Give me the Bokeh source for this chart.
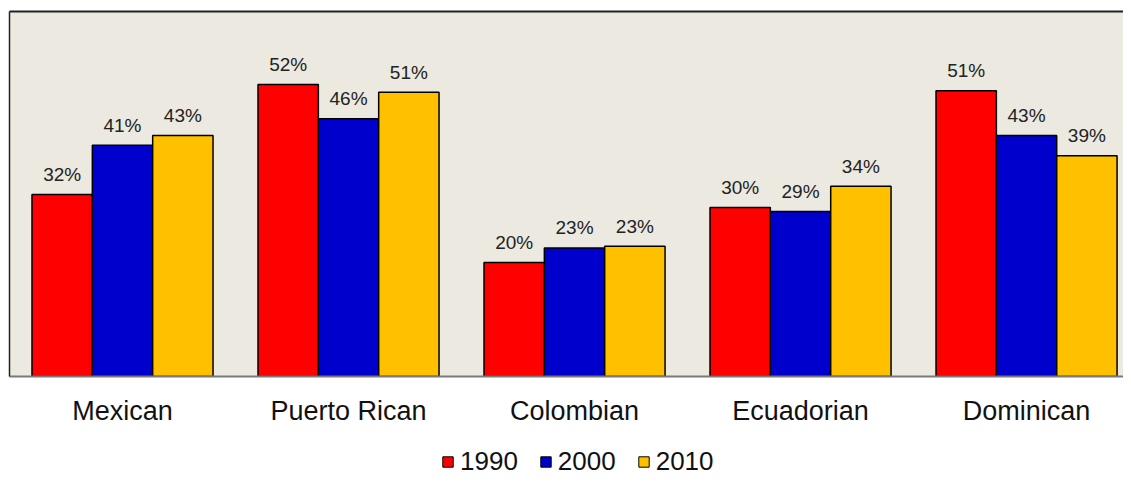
from bokeh.plotting import figure
from bokeh.layouts import column
from bokeh.models import ColumnDataSource, Range1d, FixedTicker, LinearAxis, Legend, LegendItem
from bokeh.transform import dodge
from bokeh.core.properties import value
from bokeh.embed import file_html
from bokeh.resources import INLINE

categories = ["Mexican", "Puerto Rican", "Colombian", "Ecuadorian", "Dominican"]
years = ["1990", "2000", "2010"]
share_1990 = [32.4, 52.0, 20.3, 30.1, 50.9]
share_2000 = [41.2, 45.9, 22.9, 29.4, 42.9]
share_2010 = [42.9, 50.6, 23.2, 33.9, 39.3]
colors = ["#FF0000", "#0000CC", "#FFC000"]

series = [share_1990, share_2000, share_2010]
data = {"x": list(range(len(categories)))}
for yr, vals in zip(years, series):
    data["v" + yr] = vals
    data["l" + yr] = [f"{v:.0f}%" for v in vals]
source = ColumnDataSource(data)

FONT = "Liberation Sans"
bar_w = 0.267
offsets = [-bar_w, 0.0, bar_w]

p = figure(width=1123, height=432, output_backend="svg", toolbar_location=None,
           x_range=Range1d(-0.5, 4.429), y_range=Range1d(0, 65),
           min_border_left=9, min_border_right=0, min_border_top=11, min_border_bottom=56)
p.background_fill_color = "#ECE9E0"
p.border_fill_color = "white"
p.outline_line_color = None
p.grid.visible = False

for yr, col, off in zip(years, colors, offsets):
    p.vbar(x=dodge("x", off), top="v" + yr, width=bar_w, bottom=0, source=source,
           fill_color=col, line_color="black", line_width=1.5)
    p.text(x=dodge("x", off), y="v" + yr, text="l" + yr, source=source,
           text_align="center", text_baseline="alphabetic", y_offset=-20,
           text_font=value(FONT), text_font_size="19px", text_color="#222222")

# x axis
xa = p.xaxis[0]
xa.ticker = FixedTicker(ticks=list(range(len(categories))))
xa.major_label_overrides = {i: c for i, c in enumerate(categories)}
xa.major_tick_line_color = None
xa.minor_tick_line_color = None
xa.major_tick_out = 0
xa.major_label_standoff = 19
xa.axis_line_color = "#7a7a7a"
xa.axis_line_width = 2
xa.major_label_text_font = FONT
xa.major_label_text_font_size = "27px"
xa.major_label_text_color = "#111111"

# left border as axis
ya = p.yaxis[0]
ya.ticker = FixedTicker(ticks=[])
ya.major_tick_line_color = None
ya.minor_tick_line_color = None
ya.major_tick_out = 0
ya.major_label_standoff = 0
ya.major_label_text_font_size = "0px"
ya.axis_line_color = "#222222"
ya.axis_line_width = 1.5

top_axis = LinearAxis(ticker=FixedTicker(ticks=[]), major_tick_line_color=None,
                      minor_tick_line_color=None, major_tick_out=0, major_label_standoff=0,
                      major_label_text_font_size="0px", axis_line_color="#222222",
                      axis_line_width=2)
p.add_layout(top_axis, "above")

# legend strip below the chart
q = figure(width=1123, height=45, output_backend="svg", toolbar_location=None,
           x_range=Range1d(-0.5, 4.429), y_range=Range1d(1000, 1001),
           x_axis_location=None, y_axis_location=None,
           min_border_left=9, min_border_right=0, min_border_top=14, min_border_bottom=0)
q.outline_line_color = None
q.grid.visible = False
q.background_fill_color = "white"
q.border_fill_color = "white"
key_renderers = []
for yr, col, off in zip(years, colors, offsets):
    r = q.vbar(x=dodge("x", off), top="v" + yr, width=bar_w, bottom=0, source=source,
               fill_color=col, line_color="black", line_width=1)
    key_renderers.append(r)

legend = Legend(items=[LegendItem(label=yr, renderers=[r]) for yr, r in zip(years, key_renderers)],
                location=(432, 0), orientation="horizontal",
                border_line_color=None, background_fill_alpha=0, padding=0, margin=0,
                spacing=21, label_standoff=6, glyph_width=13, glyph_height=13,
                label_text_font=FONT, label_text_font_size="26px", label_text_color="#111111")
q.add_layout(legend)

layout = column(p, q, spacing=0)
open("out.html", "w").write(file_html(layout, INLINE))
